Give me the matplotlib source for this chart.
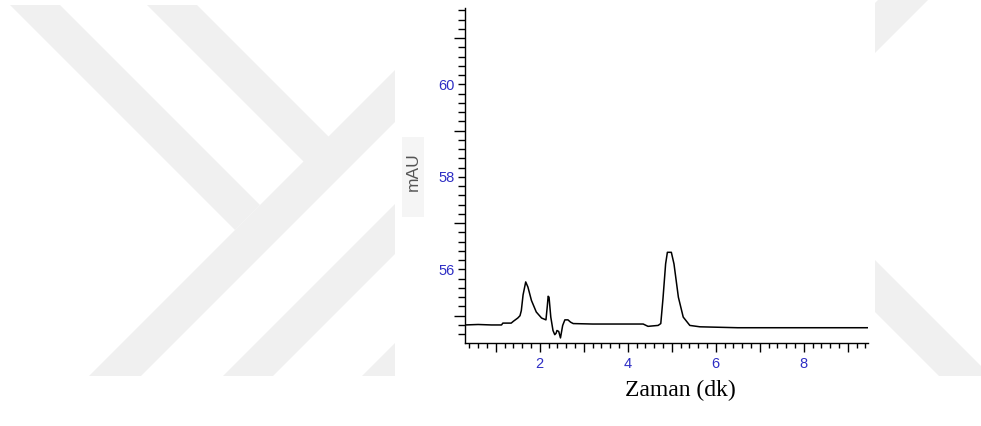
import matplotlib
matplotlib.use("Agg")
import matplotlib.pyplot as plt
from matplotlib.ticker import FixedLocator, FuncFormatter, MultipleLocator
from matplotlib.patches import Polygon, Rectangle
import numpy as np

# ---- data ----
time_min = [0.30, 0.60, 0.90, 1.13, 1.16, 1.35, 1.40, 1.50, 1.55, 1.58, 1.62, 1.68,
            1.73, 1.81, 1.92, 2.04, 2.14, 2.17, 2.19, 2.21, 2.25, 2.30, 2.34, 2.37,
            2.39, 2.43, 2.47, 2.52, 2.57, 2.64, 2.70, 2.76, 3.20, 3.80, 4.35, 4.46,
            4.69, 4.75, 4.80, 4.86, 4.90, 4.99, 5.05, 5.15, 5.26, 5.41, 5.64, 6.50,
            7.50, 8.50, 9.46]
absorbance_mau = [54.80, 54.81, 54.80, 54.80, 54.84, 54.84, 54.88, 54.95, 55.00, 55.11,
                  55.45, 55.73, 55.62, 55.33, 55.08, 54.95, 54.91, 55.20, 55.42, 55.40,
                  54.97, 54.68, 54.59, 54.62, 54.68, 54.66, 54.52, 54.79, 54.91, 54.91,
                  54.86, 54.83, 54.82, 54.82, 54.82, 54.77, 54.79, 54.83, 55.37, 56.12,
                  56.37, 56.37, 56.12, 55.40, 54.97, 54.79, 54.76, 54.74, 54.74, 54.74,
                  54.74]
y_tick_labels = [56, 58, 60]
x_tick_labels = [2, 4, 6, 8]
x_label = "Zaman (dk)"
y_label = "mAU"

W, H = 981, 426
fig = plt.figure(figsize=(W / 100, H / 100), dpi=100)
fig.patch.set_facecolor("white")

# ---- faint background watermark (decoration) ----
wm = "#f0f0f0"
def px(points):
    return [(x / W, 1 - y / H) for x, y in points]
bands = [
    [(10, 5), (60, 5), (260, 205), (235, 230)],
    [(147, 5), (197, 5), (329, 137), (304, 162)],
    [(89, 376), (141, 376), (517, 0), (465, 0)],
    [(223, 376), (273, 376), (649, 0), (599, 0)],
    [(362, 376), (412, 376), (788, 0), (738, 0)],
    [(502, 376), (552, 376), (928, 0), (878, 0)],
    [(763, 200), (815, 200), (991, 376), (939, 376)],
]
for b in bands:
    fig.patches.append(Polygon(px(b), closed=True, transform=fig.transFigure,
                               facecolor=wm, edgecolor="none", zorder=0))
fig.patches.append(Rectangle((395 / W, 1 - 378 / H), 480 / W, 378 / H,
                             transform=fig.transFigure, facecolor="white",
                             edgecolor="none", zorder=0.5))
fig.patches.append(Rectangle((402 / W, 1 - 217 / H), 22 / W, 80 / H,
                             transform=fig.transFigure, facecolor="#f5f5f5",
                             edgecolor="none", zorder=0.6))

# ---- axes ----
ax = fig.add_axes([465 / W, 1 - 343 / H, (868 - 465) / W, (343 - 8) / H])
ax.set_zorder(2)
ax.set_facecolor("none")
ax.plot(time_min, absorbance_mau, color="black", lw=1.1, zorder=3)

ax.set_xlim(0.3, 9.46)
ax.set_ylim(54.41, 61.65)

for s in ["top", "right"]:
    ax.spines[s].set_visible(False)
for s in ["left", "bottom"]:
    ax.spines[s].set_linewidth(1.0)
    ax.spines[s].set_color("black")

blue = "#2e2ec4"

# x axis: long ticks at integers, short every 0.2, labels on even numbers
ax.xaxis.set_major_locator(MultipleLocator(1))
ax.xaxis.set_minor_locator(MultipleLocator(0.2))
ax.xaxis.set_major_formatter(FuncFormatter(
    lambda v, p: (f"{int(round(v))}" if int(round(v)) in x_tick_labels else "")))
ax.tick_params(axis="x", which="major", length=6.5, width=1.0, direction="out",
               pad=3.5, labelcolor=blue, labelsize=10.5)
ax.tick_params(axis="x", which="minor", length=3.6, width=1.0, direction="out")

# y axis: long ticks at odd integers, short every 0.2, labels on even numbers
yt_minor = [round(v, 1) for v in np.arange(54.4, 61.7, 0.2)
            if abs(v - round(v)) > 0.01 or int(round(v)) % 2 == 0]
ax.yaxis.set_major_locator(FixedLocator([55, 57, 59, 61]))
ax.yaxis.set_major_formatter(FuncFormatter(lambda v, p: ""))
ax.yaxis.set_minor_locator(FixedLocator(yt_minor))
ax.yaxis.set_minor_formatter(FuncFormatter(
    lambda v, p: (f"{int(round(v))}" if abs(v - round(v)) < 0.01 and int(round(v)) in y_tick_labels else "")))
ax.tick_params(axis="y", which="major", length=8, width=1.0, direction="out")
ax.tick_params(axis="y", which="minor", length=5, width=1.0, direction="out",
               pad=2.5, labelcolor=blue, labelsize=10.5)

for lab in ax.get_xticklabels() + ax.get_yticklabels(minor=True):
    lab.set_family("Liberation Sans")

fig.text(413 / W, 1 - 172 / H, y_label, rotation=90, ha="center", va="center",
         color="#555555", fontsize=12.5, family="Liberation Sans")
fig.text(680 / W, 1 - 390 / H, x_label, ha="center", va="center",
         color="black", fontsize=17, family="Liberation Serif")

fig.savefig("out.png", dpi=100, facecolor="white")
